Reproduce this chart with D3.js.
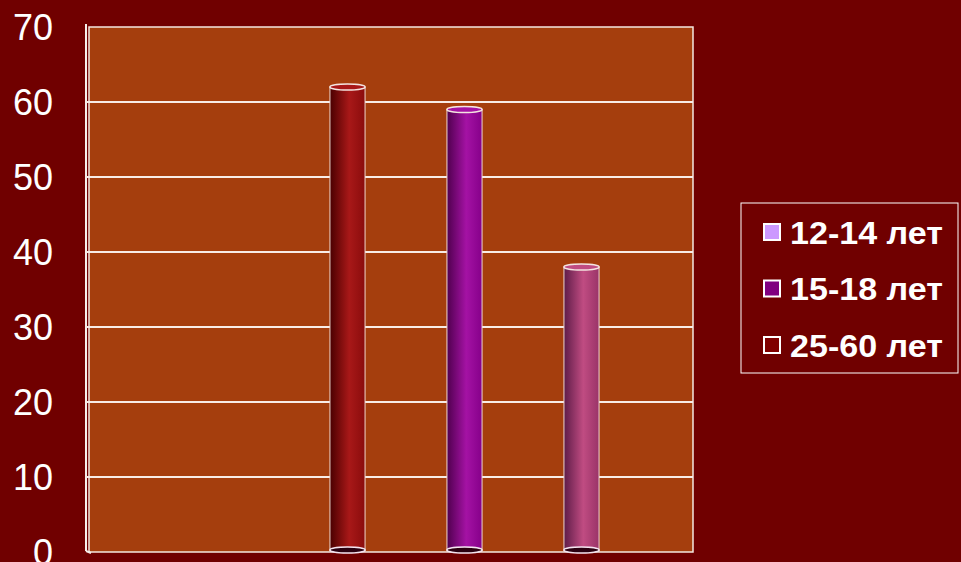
<!DOCTYPE html>
<html><head><meta charset="utf-8">
<script src="https://cdn.jsdelivr.net/npm/d3@7/dist/d3.min.js"></script>
<style>html,body{margin:0;padding:0;background:#700000;overflow:hidden}</style>
</head><body>
<svg id="c" width="961" height="562"></svg>
<script>
const series = ["12-14 лет", "15-18 лет", "25-60 лет"];
const values = [62, 59, 38];
const legendColors = ["#CC99FF", "#800080", "#800000"];
const barColors = [
  ["#4a0000", "#a81818", "#8a0c0c"],
  ["#50004e", "#a412a4", "#86008a"],
  ["#5e1c48", "#c04c82", "#9a3468"]
];
const yTicks = [0, 10, 20, 30, 40, 50, 60, 70];

const svg = d3.select("#c");
const L = 89, R = 693, T = 27, B = 552;
const y = d3.scaleLinear().domain([0, 70]).range([B, T]);
const x = d3.scaleBand().domain(series).range([289, 640]).paddingInner(0.7).paddingOuter(0.35);

svg.append("rect").attr("width", 961).attr("height", 562).attr("fill", "#700000");

// plot wall
svg.append("rect").attr("x", L).attr("y", T).attr("width", R - L).attr("height", B - T)
  .attr("fill", "#A53E0D").attr("stroke", "#f4e8e0").attr("stroke-width", 1.5);
// left 3D edge
svg.append("line").attr("x1", L - 3).attr("x2", L - 3).attr("y1", T - 3).attr("y2", B - 1)
  .attr("stroke", "#f6eeea").attr("stroke-width", 2);
svg.append("line").attr("x1", L - 3).attr("x2", L + 2).attr("y1", B - 1).attr("y2", B + 1)
  .attr("stroke", "#f6eeea").attr("stroke-width", 2);

// gridlines
svg.append("g").selectAll("line").data(yTicks.filter(d => d > 0 && d < 70)).join("line")
  .attr("x1", L - 3).attr("x2", R).attr("y1", d => y(d)).attr("y2", d => y(d))
  .attr("stroke", "#f8ece6").attr("stroke-width", 2);

// y axis labels
const yAxis = d3.axisLeft(y).tickValues(yTicks).tickSize(0).tickPadding(0);
const ga = svg.append("g").attr("transform", `translate(53,0)`).call(yAxis);
ga.select(".domain").remove();
ga.selectAll("text").attr("fill", "#ffffff").attr("font-family", "Liberation Sans, Arial, sans-serif")
  .attr("font-size", 36).attr("dy", "0.36em");

// gradients
const defs = svg.append("defs");
barColors.forEach((c, i) => {
  const g = defs.append("linearGradient").attr("id", "g" + i).attr("x1", 0).attr("x2", 1).attr("y1", 0).attr("y2", 0);
  g.append("stop").attr("offset", "0%").attr("stop-color", c[0]);
  g.append("stop").attr("offset", "55%").attr("stop-color", c[1]);
  g.append("stop").attr("offset", "100%").attr("stop-color", c[2]);
});

// cylinders
const ry = 3;
const bars = svg.append("g").selectAll("g").data(values).join("g");
bars.append("rect")
  .attr("x", (d, i) => x(series[i])).attr("width", x.bandwidth())
  .attr("y", d => y(d)).attr("height", d => B - y(d) - 1)
  .attr("fill", (d, i) => `url(#g${i})`)
  .attr("stroke", "#f0d8d0").attr("stroke-width", 1);
bars.append("ellipse")
  .attr("cx", (d, i) => x(series[i]) + x.bandwidth() / 2).attr("cy", d => y(d))
  .attr("rx", x.bandwidth() / 2).attr("ry", ry)
  .attr("fill", (d, i) => barColors[i][1]).attr("stroke", "#f4e4e0").attr("stroke-width", 1.5);
bars.append("ellipse")
  .attr("cx", (d, i) => x(series[i]) + x.bandwidth() / 2).attr("cy", B - 2)
  .attr("rx", x.bandwidth() / 2).attr("ry", ry)
  .attr("fill", "#2a0010").attr("stroke", "#f4e4f0").attr("stroke-width", 1.5);

// legend
const lg = svg.append("g");
lg.append("rect").attr("x", 741).attr("y", 203).attr("width", 217).attr("height", 170)
  .attr("fill", "#700000").attr("stroke", "#ffffff").attr("stroke-width", 1);
const rows = lg.selectAll("g").data(series).join("g")
  .attr("transform", (d, i) => `translate(0,${232 + i * 56.5})`);
rows.append("rect").attr("x", 764).attr("y", -8).attr("width", 16).attr("height", 16)
  .attr("fill", (d, i) => legendColors[i]).attr("stroke", "#ffffff").attr("stroke-width", 2);
rows.append("text").attr("x", 790).attr("y", 0).attr("dy", "0.36em")
  .attr("fill", "#ffffff").attr("font-family", "Liberation Sans, Arial, sans-serif")
  .attr("font-weight", "bold").attr("font-size", 32)
  .attr("textLength", 153).attr("lengthAdjust", "spacingAndGlyphs").text(d => d);
</script>
</body></html>
